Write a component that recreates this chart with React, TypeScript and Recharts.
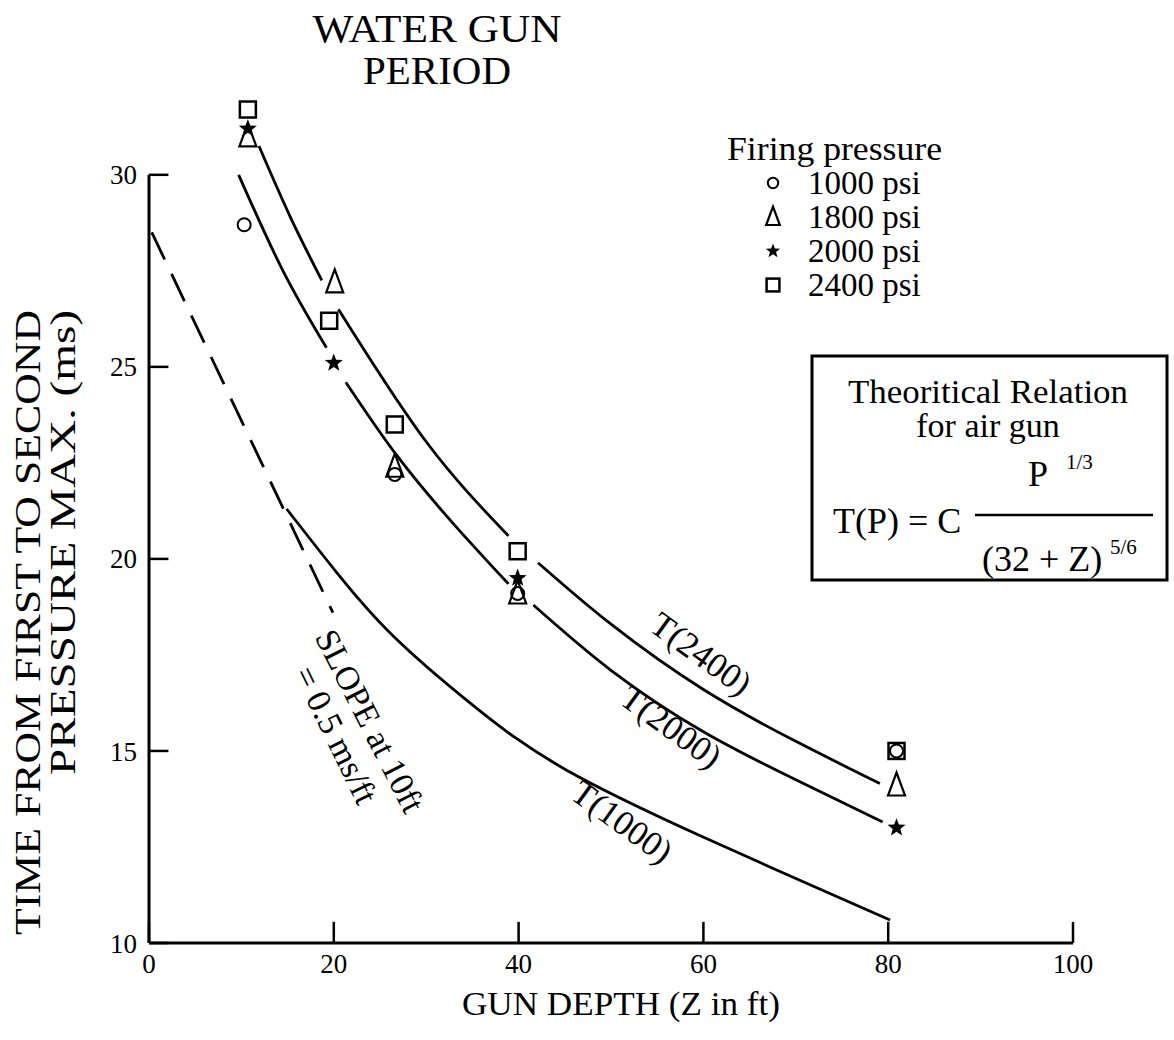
import { ComposedChart, Line, Scatter, XAxis, YAxis, ReferenceLine } from "recharts";

const FONT = "'Liberation Serif', 'Times New Roman', Times, serif";

// axis ticks
const depthTicks = [0, 20, 40, 60, 80, 100];
const timeTicks = [10, 15, 20, 25, 30];

// measured points, by firing pressure
const psi1000 = [
  { x: 10.3, y: 28.7 },
  { x: 26.6, y: 22.2 },
  { x: 39.9, y: 19.1 },
  { x: 80.9, y: 15.0 },
];
const psi1800 = [
  { x: 10.7, y: 31.0 },
  { x: 20.1, y: 27.2 },
  { x: 26.6, y: 22.4 },
  { x: 39.9, y: 19.1 },
  { x: 80.9, y: 14.1 },
];
const psi2000 = [
  { x: 10.7, y: 31.2 },
  { x: 20.0, y: 25.1 },
  { x: 39.9, y: 19.5 },
  { x: 80.9, y: 13.0 },
];
const psi2400 = [
  { x: 10.7, y: 31.7 },
  { x: 19.5, y: 26.2 },
  { x: 26.6, y: 23.5 },
  { x: 39.9, y: 20.2 },
  { x: 80.9, y: 15.0 },
];

// theoretical curves (broken where markers sit on them)
const t2400a = [
  { x: 11.9, y: 30.75 },
  { x: 15.3, y: 28.9 },
  { x: 18.7, y: 27.25 },
];
const t2400b = [
  { x: 20.5, y: 26.5 },
  { x: 30, y: 23.05 },
  { x: 38.9, y: 20.6 },
];
const t2400c = [
  { x: 42.1, y: 19.9 },
  { x: 50, y: 18.3 },
  { x: 60, y: 16.6 },
  { x: 70, y: 15.25 },
  { x: 79.1, y: 14.15 },
];
const t2000a = [
  { x: 9.7, y: 30.0 },
  { x: 14.5, y: 27.5 },
  { x: 19.2, y: 25.5 },
];
const t2000b = [
  { x: 21.3, y: 24.6 },
  { x: 26.8, y: 22.7 },
  { x: 33, y: 20.9 },
  { x: 38.9, y: 19.35 },
];
const t2000c = [
  { x: 41.6, y: 18.8 },
  { x: 50, y: 17.1 },
  { x: 60, y: 15.5 },
  { x: 70, y: 14.25 },
  { x: 79.4, y: 13.15 },
];
const t1000 = [
  { x: 14.9, y: 21.3 },
  { x: 20.3, y: 19.65 },
  { x: 26.4, y: 18.0 },
  { x: 35, y: 16.2 },
  { x: 45.2, y: 14.5 },
  { x: 59.6, y: 12.8 },
  { x: 70, y: 11.68 },
  { x: 80.2, y: 10.6 },
];
const slopeLine = [
  { x: 0.3, y: 28.5 },
  { x: 19.9, y: 18.6 },
];

const W = 1174;
const H = 1040;
const INK = "#000";

const starPath = (cx: number, cy: number, R: number, r: number) => {
  let d = "";
  for (let i = 0; i < 10; i++) {
    const a = ((-90 + i * 36) * Math.PI) / 180;
    const rr = i % 2 === 0 ? R : r;
    d += (i === 0 ? "M" : "L") + (cx + rr * Math.cos(a)).toFixed(2) + "," + (cy + rr * Math.sin(a)).toFixed(2);
  }
  return d + "Z";
};

const Circle = ({ cx, cy, s = 1 }: any) => (
  <circle cx={cx} cy={cy} r={6.5 * s} fill="none" stroke={INK} strokeWidth={2} />
);
const Triangle = ({ cx, cy, s = 1 }: any) => (
  <polygon
    points={`${cx},${cy - 13 * s} ${cx - 8.5 * s},${cy + 10 * s} ${cx + 8.5 * s},${cy + 10 * s}`}
    fill="none"
    stroke={INK}
    strokeWidth={2.2}
  />
);
const Star = ({ cx, cy, s = 1 }: any) => <path d={starPath(cx, cy, 9.5 * s, 4 * s)} fill={INK} />;
const Square = ({ cx, cy, s = 1 }: any) => (
  <rect x={cx - 8 * s} y={cy - 8 * s} width={16 * s} height={16 * s} fill="none" stroke={INK} strokeWidth={2.5} />
);

const legendRows = [
  { label: "1000 psi", Shape: Circle },
  { label: "1800 psi", Shape: Triangle },
  { label: "2000 psi", Shape: Star },
  { label: "2400 psi", Shape: Square },
];

const curve = (data: { x: number; y: number }[], key: string, dashed = false) => (
  <Line
    key={key}
    data={data}
    dataKey="y"
    type={dashed ? "linear" : "natural"}
    stroke={INK}
    strokeWidth={2.8}
    strokeDasharray={dashed ? "30 16" : undefined}
    dot={false}
    activeDot={false}
    isAnimationActive={false}
    legendType="none"
  />
);

export default function App() {
  const tickStyle = { fill: INK, fontSize: 27, fontFamily: FONT };
  return (
    <div style={{ position: "absolute", left: 0, top: 0, width: W, height: H, background: "#fff" }}>
      <ComposedChart width={W} height={H} margin={{ top: 98, right: 101, bottom: 57, left: 89 }}>
        <XAxis
          type="number"
          dataKey="x"
          domain={[0, 100]}
          ticks={depthTicks}
          tick={tickStyle}
          tickLine={false}
          tickSize={0}
          tickMargin={11}
          axisLine={{ stroke: INK, strokeWidth: 3 }}
          height={40}
          allowDataOverflow
        />
        <YAxis
          type="number"
          dataKey="y"
          domain={[10, 32]}
          ticks={timeTicks}
          tick={tickStyle}
          tickLine={false}
          tickSize={0}
          tickMargin={12}
          axisLine={false}
          width={60}
          allowDataOverflow
        />
        {/* y axis line only up to 30, ticks drawn inward */}
        <ReferenceLine segment={[{ x: 0, y: 10 }, { x: 0, y: 30 }]} stroke={INK} strokeWidth={3} />
        {timeTicks.map((t) => (
          <ReferenceLine key={"yt" + t} segment={[{ x: 0, y: t }, { x: 2.1, y: t }]} stroke={INK} strokeWidth={2.5} />
        ))}
        {depthTicks.map((t) => (
          <ReferenceLine key={"xt" + t} segment={[{ x: t, y: 10 }, { x: t, y: 10.55 }]} stroke={INK} strokeWidth={2.5} />
        ))}

        {curve(t2400a, "a1")}
        {curve(t2400b, "a2")}
        {curve(t2400c, "a3")}
        {curve(t2000a, "b1")}
        {curve(t2000b, "b2")}
        {curve(t2000c, "b3")}
        {curve(t1000, "c1")}
        {curve(slopeLine, "d1", true)}

        <Scatter data={psi1000} dataKey="y" shape={(p: any) => <Circle cx={p.cx} cy={p.cy} />} isAnimationActive={false} />
        <Scatter data={psi1800} dataKey="y" shape={(p: any) => <Triangle cx={p.cx} cy={p.cy} />} isAnimationActive={false} />
        <Scatter data={psi2000} dataKey="y" shape={(p: any) => <Star cx={p.cx} cy={p.cy} />} isAnimationActive={false} />
        <Scatter data={psi2400} dataKey="y" shape={(p: any) => <Square cx={p.cx} cy={p.cy} />} isAnimationActive={false} />
      </ComposedChart>

      <svg
        width={W}
        height={H}
        style={{ position: "absolute", left: 0, top: 0, pointerEvents: "none" }}
        fontFamily={FONT}
        fill={INK}
      >
        {/* title */}
        <text x={437} y={42} fontSize={39} textAnchor="middle" textLength={249} lengthAdjust="spacingAndGlyphs">WATER GUN</text>
        <text x={437} y={84} fontSize={39} textAnchor="middle" textLength={148} lengthAdjust="spacingAndGlyphs">PERIOD</text>

        {/* legend */}
        <text x={727} y={160} fontSize={33} textLength={215} lengthAdjust="spacingAndGlyphs">Firing pressure</text>
        {legendRows.map((r, i) => (
          <g key={r.label}>
            <r.Shape cx={773} cy={183 + i * 34} s={0.8} />
            <text x={808} y={194 + i * 34} fontSize={33}>{r.label}</text>
          </g>
        ))}

        {/* theory box */}
        <rect x={812} y={356} width={355} height={224} fill="none" stroke={INK} strokeWidth={3} />
        <text x={988} y={403} fontSize={34} textAnchor="middle" textLength={280} lengthAdjust="spacingAndGlyphs">Theoritical Relation</text>
        <text x={988} y={437} fontSize={34} textAnchor="middle">for air gun</text>
        <text x={833} y={533} fontSize={36}>T(P) = C</text>
        <text x={1028} y={486} fontSize={36}>P</text>
        <text x={1066} y={469} fontSize={21}>1/3</text>
        <line x1={975} y1={515} x2={1153} y2={515} stroke={INK} strokeWidth={2.5} />
        <text x={982} y={571} fontSize={36}>(32 + Z)</text>
        <text x={1110} y={554} fontSize={21}>5/6</text>

        {/* curve labels */}
        <text x={701} y={654} fontSize={35} textAnchor="middle" dominantBaseline="central" transform="rotate(36 701 654)">T(2400)</text>
        <text x={671} y={727} fontSize={35} textAnchor="middle" dominantBaseline="central" transform="rotate(36 671 727)">T(2000)</text>
        <text x={622} y={822} fontSize={35} textAnchor="middle" dominantBaseline="central" transform="rotate(36 622 822)">T(1000)</text>
        <text x={370} y={721} fontSize={34} textAnchor="middle" dominantBaseline="central" transform="rotate(63 370 721)">SLOPE at 10ft</text>
        <text x={336} y={735} fontSize={34} textAnchor="middle" dominantBaseline="central" transform="rotate(64 336 735)">= 0.5 ms/ft</text>

        {/* axis titles */}
        <text x={621} y={1015} fontSize={33} textAnchor="middle" textLength={318} lengthAdjust="spacingAndGlyphs">GUN DEPTH (Z in ft)</text>
        <text x={40} y={310} fontSize={35} textAnchor="end" transform="rotate(-90 40 310)" textLength={625} lengthAdjust="spacingAndGlyphs">
          TIME FROM FIRST TO SECOND
        </text>
        <text x={75} y={310} fontSize={35} textAnchor="end" transform="rotate(-90 75 310)" textLength={465} lengthAdjust="spacingAndGlyphs">
          PRESSURE MAX. (ms)
        </text>
      </svg>
    </div>
  );
}
